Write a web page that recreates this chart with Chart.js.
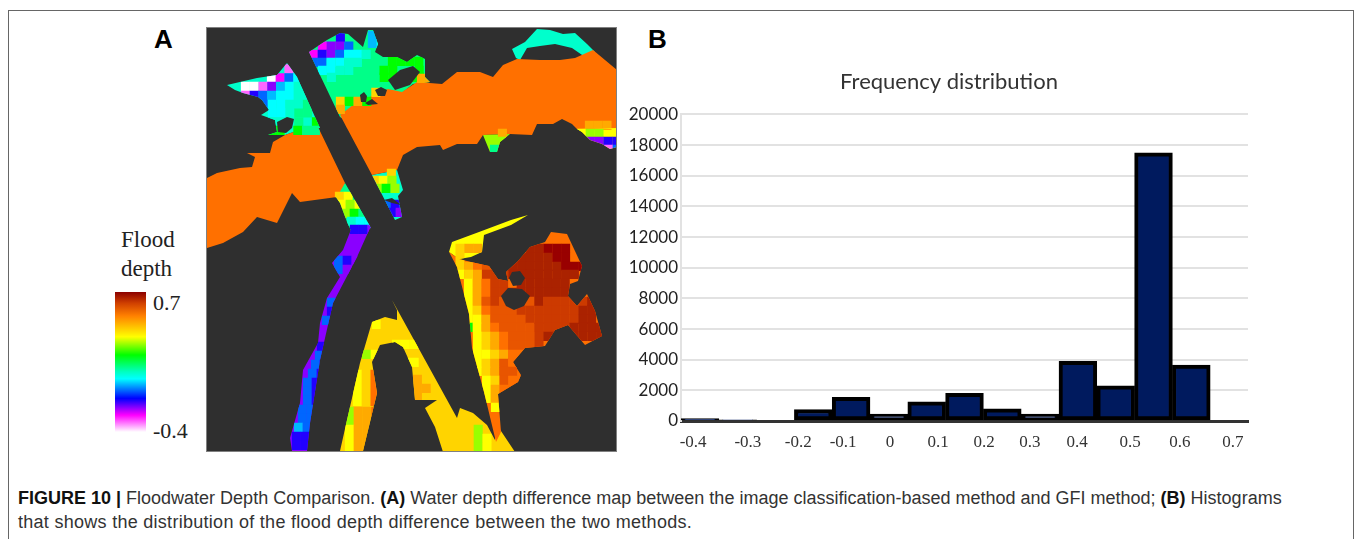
<!DOCTYPE html>
<html>
<head>
<meta charset="utf-8">
<title>Floodwater Depth Comparison</title>
<script src="https://cdn.jsdelivr.net/npm/chart.js@4"></script>
<style>
  html, body { margin: 0; padding: 0; background: #fff; }
  body { position: relative; width: 1356px; height: 539px; overflow: hidden; }
  .abs { position: absolute; white-space: nowrap; }
  #frame { left: 8px; top: 10px; width: 1344px; height: 540px; border: 1.5px solid #666; }
  .panel { font: bold 26px "Liberation Sans"; color: #000; line-height: 30px; }
  .legend-text { font: 22px "Liberation Serif"; color: #222; line-height: 24px; }
  #colorbar {
    left: 115px; top: 292px; width: 31px; height: 140px;
    background: linear-gradient(to bottom, #8b0000 0%, #d04000 8%, #ff8000 17%, #ffff00 32%, #00ff00 45%, #00ffc0 57%, #00ffff 62%, #0000ff 76%, #ff00ff 88%, #ffffff 100%);
  }
  .caption { left: 18px; font: 18px "Liberation Sans"; color: #333; }
  .caption b { color: #111; }
  #map-wrap { left: 206px; top: 27px; width: 411px; height: 425px; }
  #hist-wrap { left: 620px; top: 65px; width: 658px; height: 400px; }
</style>
</head>
<body>
<div class="abs" id="frame"></div>
<div class="abs panel" style="left:154px;top:24px">A</div>
<div class="abs panel" style="left:648px;top:24px">B</div>
<div class="abs legend-text" style="left:121px;top:228px;font-size:23px">Flood</div>
<div class="abs legend-text" style="left:121px;top:257px;font-size:23px">depth</div>
<div class="abs" id="colorbar"></div>
<div class="abs legend-text" style="left:153px;top:291px">0.7</div>
<div class="abs legend-text" style="left:153px;top:419px">-0.4</div>
<div class="abs" id="map-wrap"><canvas id="map-chart"></canvas></div>
<div class="abs" id="hist-wrap"><canvas id="hist-chart"></canvas></div>
<div class="abs caption" style="top:488px"><b>FIGURE 10 |</b> Floodwater Depth Comparison. <b>(A)</b> Water depth difference map between the image classification-based method and GFI method; <b>(B)</b> Histograms</div>
<div class="abs caption" style="top:512px;letter-spacing:0.28px">that shows the distribution of the flood depth difference between the two methods.</div>

<script>
// --------------- histogram data --------------- //
const binLabels = ['b1', 'b2', 'b3', 'b4', 'b5', 'b6', 'b7', 'b8', 'b9', 'b10', 'b11', 'b12', 'b13', 'b14', 'b15'];
const frequencies = [150, 80, 0, 750, 1550, 450, 1250, 1800, 800, 450, 3900, 2300, 17500, 3650, 0];
const xTickLabels = ['-0.4', '-0.3', '-0.2', '-0.1', '0', '0.1', '0.2', '0.3', '0.4', '0.5', '0.6', '0.7'];
// where each label sits, counted in bins from the axis start (labels are not evenly spaced in the figure)
const xTickBins = [0.32, 1.77, 3.1, 4.29, 5.53, 6.8, 8.02, 9.23, 10.48, 11.88, 13.2, 14.6];

// --------------- map data (traced, in picture pixels) --------------- //
const mapColors = {
  w: '#ffffff', p: '#ff66ff', m: '#ff00ff', v: '#8a00ff', b: '#2200ff', a: '#0066ff', i: '#00bbff',
  c: '#00ffff', t: '#00ffcc', s: '#00ff88', g: '#00ff00', l: '#99ff00', y: '#ffff00', d: '#ffd400',
  e: '#ffaa00', o: '#ff7000', r: '#e85500', R: '#cc3a00', k: '#aa2200', D: '#990000'
};

const topLeftShape = [[227,85],[257,78],[277,75],[287,63],[297,77],[320,128],[302,129],[285,135],[268,135],[277,132],[275,120],[261,115],[269,110],[262,100],[258,97],[243,93],[235,90]];
const topRightShape = [[309,52],[327,40],[340,33],[348,34],[363,47],[368,30],[373,30],[378,44],[375,52],[383,57],[397,57],[407,62],[417,55],[425,59],[425,77],[430,82],[413,84],[403,92],[388,95],[345,120],[340,117]];
const topCyanShape = [[512,49],[525,42],[537,29],[550,30],[563,34],[575,33],[587,44],[595,52],[585,57],[572,48],[555,44],[540,46],[527,48],[520,60],[516,58]];
const leftBandShape = [[207,178],[217,173],[240,168],[252,167],[255,157],[247,153],[270,153],[273,142],[285,135],[302,129],[318,127],[345,183],[337,197],[300,202],[292,193],[277,223],[257,217],[243,232],[223,243],[207,248]];
const rightBandShape = [[340,115],[353,105],[380,92],[388,89],[402,92],[417,82],[442,84],[457,72],[480,72],[493,77],[503,65],[517,59],[540,60],[560,60],[575,58],[593,50],[617,70],[617,129],[577,129],[572,124],[562,119],[553,124],[537,124],[532,135],[510,134],[483,135],[477,144],[457,144],[443,150],[440,145],[417,147],[403,155],[397,170],[372,175]];
const bandTailShape = [[577,129],[582,132],[590,140],[602,144],[610,149],[617,147],[617,128]];
const bandLobeShape = [[483,135],[490,152],[497,152],[500,142],[510,134]];
const underLeftShape = [[333,193],[345,183],[371,228],[352,233],[347,222],[340,203]];
const underRightShape = [[372,175],[397,170],[403,190],[398,196],[402,217],[395,220]];
const purpleShape = [[352,227],[370,228],[357,257],[333,303],[320,360],[310,423],[307,451],[292,451],[290,438],[300,403],[303,370],[318,343],[320,323],[327,298],[340,277],[332,263],[343,250]];
const fanShape = [[372,322],[385,317],[397,320],[397,310],[392,300],[457,418],[460,408],[473,413],[487,425],[495,440],[497,425],[515,452],[443,452],[435,427],[425,408],[437,400],[415,400],[412,367],[403,347],[395,342],[380,345],[372,362],[377,393],[363,451],[340,451],[347,420],[360,363]];
const blobStripeShape = [[528,215],[511,225],[484,235],[482,252],[471,257],[459,259],[449,252],[452,242],[479,232],[511,220]];
const blobShape = [[449,252],[459,259],[471,262],[489,266],[498,279],[508,281],[506,272],[518,261],[530,247],[545,242],[551,232],[567,234],[582,266],[578,281],[570,284],[568,296],[577,306],[587,294],[595,311],[602,336],[585,345],[568,325],[555,330],[545,346],[525,348],[513,362],[521,375],[518,382],[498,394],[501,432],[496,442],[484,392],[472,348],[469,314],[457,267]];

// dark gaps cut back out of the land
const holeShapes = [
  [[277,122],[287,117],[294,119],[292,128],[286,133],[278,132]],
  [[388,80],[400,70],[413,66],[420,72],[410,85],[395,90]],
  [[360,95],[364,92],[367,96],[366,102],[361,102]],
  [[375,90],[381,87],[387,90],[385,96],[378,96]],
  [[365,103],[372,99],[378,104],[368,105]],
  [[509,278],[512,272],[520,271],[525,278],[521,285],[513,286]],
  [[501,296],[508,288],[522,289],[530,296],[524,306],[514,310],[506,306]],
  [[384,200],[392,198],[401,205],[392,203]]
];

const mapRegions = [
  { shape: topLeftShape, color: mapColors.t },
  { shape: topRightShape, color: mapColors.s },
  { shape: topCyanShape, color: mapColors.t },
  { shape: underLeftShape, color: mapColors.s },
  { shape: underRightShape, color: mapColors.t },
  { shape: purpleShape, color: mapColors.v },
  { shape: fanShape, color: mapColors.d },
  { shape: blobStripeShape, color: mapColors.y },
  { shape: blobShape, color: mapColors.o },
  { shape: leftBandShape, color: mapColors.o },
  { shape: rightBandShape, color: mapColors.o },
  { shape: bandTailShape, color: mapColors.y },
  { shape: bandLobeShape, color: mapColors.l }
];

// mosaic cells: [row top, first cell left, one letter per cell, '.' leaves the base colour]
const mosaicRows = [
  // top left, beside the road
  [64.5, 284.5, 'p'],
  [73.3, 267, 'wmac'],
  [82, 241, 'wwpvictt'],
  [91, 241, 'pbaicctt'],
  [100, 259, 'accttss'],
  [108.6, 268, 'cctss.'],
  [117.4, 268, 'tt.s.gg'],
  [126, 267, 'gg.gss.oo'],
  // top right, above the band
  [33, 336, 'b'],
  [41.7, 318, 'mvva'],
  [50, 309, 'mbvacct'],
  [58, 309, 'aacctt'],
  [66, 318, 'cctt...gg..g'],
  [73, 327, 't.....gg.gg'],
  [88, 345, 'ss.d'],
  [97, 336, 'dgeg'],
  [105, 336, 'e'],
  [31, 368, 'ic'],
  [39, 368, 'ic'],
  [57, 388, 'gggg'],
  [74, 417, 'ee'],
  // under the band, both sides of the road
  [192, 335, 'dy'],
  [200, 337, 'yly'],
  [209, 341, 'lgs'],
  [217, 347, 'tcc'],
  [225, 350, 'bbv'],
  [169, 387, 'd'],
  [176, 370, 'dyl'],
  [184, 373, 'lgl'],
  [200, 382, 'ab'],
  [208, 387, 'bv'],
  // band edges
  [121, 585, 'eee'],
  [129, 577, 'yll'],
  [137, 586, 'vvbb'],
  [145, 604, 'pa'],
  [129, 498, 'e'],
  [137, 490, 'll'],
  [145, 490, 's'],
  // purple strip
  [256, 334, 'abv'],
  [265, 334, 'av'],
  [298, 327, 'ab'],
  [307, 327, 'b'],
  [316, 322, 'ab'],
  [342, 317, 'b'],
  [351, 315, 'ab'],
  [360, 311, 'ab'],
  [369, 308, 'ab'],
  [378, 303, 'ab'],
  [387, 303, 'ab'],
  [396, 303, 'ab'],
  [405, 298, 'aa'],
  [414, 298, 'aa'],
  [423, 294, 'ia'],
  [432, 292, 'bb'],
  [441, 292, 'bb'],
  // lower fan
  [320, 372, 'yd'],
  [350, 362, 'ly'],
  [370, 353, 'ydo'],
  [379, 353, 'ydo'],
  [388, 353, 'ydo'],
  [397, 353, 'ydo'],
  [407, 345, 'leeo'],
  [416, 345, 'leeo'],
  [425, 345, 'yee'],
  [434, 345, 'yee'],
  [443, 345, 'yee'],
  [340, 392, 'yyy'],
  [358, 401, 'yy'],
  [375, 413, 'e'],
  [384, 413, 'ee'],
  [393, 413, 'e'],
  [425, 465, 'dl'],
  [434, 465, 'dly'],
  [443, 465, 'dly'],
  // right blob
  [244, 455.6, 'dee.....kkDDD'],
  [253, 455.6, 'd......kkkkDD'],
  [262, 455.6, 'deorr.kkkkkkDDD'],
  [270, 455.6, 'ydeRRRkkkkkkkk'],
  [279, 464, 'yeoRR.kkkkkk'],
  [288, 464, 'yeoRRkkkkkkk'],
  [297, 464, 'yerRrrrrkRRRRRkk'],
  [306, 464, 'ydorrrRRRRRRRkk'],
  [315, 464, 'yyerrrrRRRRRRkk'],
  [323, 464, 'gyeorrrrRRRRkkkk'],
  [332, 473, 'ydeorrrRkkkkkkk'],
  [341, 473, 'ydeorrrR'],
  [350, 473, 'yydeoor'],
  [359, 473, 'ydero'],
  [367, 473, 'yderr'],
  [376, 482, 'ydroo'],
  [385, 482, 'yeooo'],
  [394, 482, 'ye'],
  [403, 491, 'ye']
];

const mapCellSize = 8.8;

// flatten the rows into the points the scatter dataset draws
const mosaicPoints = [];
const mosaicColors = [];
mosaicRows.forEach(([top, left, letters]) => {
  letters.split('').forEach((letter, i) => {
    if (letter === '.') return;
    mosaicPoints.push({ x: left + i * mapCellSize + mapCellSize / 2, y: top + mapCellSize / 2 });
    mosaicColors.push(mapColors[letter]);
  });
});

// --------------- map chart --------------- //
function tracePolygon(ctx, chart, shape) {
  shape.forEach(([px, py], i) => {
    const x = chart.scales.x.getPixelForValue(px);
    const y = chart.scales.y.getPixelForValue(py);
    if (i === 0) ctx.moveTo(x, y); else ctx.lineTo(x, y);
  });
  ctx.closePath();
}

const landPlugin = {
  id: 'land',
  beforeDatasetsDraw(chart) {
    const ctx = chart.ctx;
    const area = chart.chartArea;
    ctx.save();
    ctx.fillStyle = '#2f2f2f';
    ctx.fillRect(area.left, area.top, area.right - area.left, area.bottom - area.top);
    mapRegions.forEach(region => {
      ctx.beginPath();
      tracePolygon(ctx, chart, region.shape);
      ctx.fillStyle = region.color;
      ctx.fill();
    });
    ctx.restore();
  },
  // mosaic cells only show where there is land
  beforeDatasetDraw(chart) {
    const ctx = chart.ctx;
    ctx.save();
    ctx.beginPath();
    mapRegions.forEach(region => tracePolygon(ctx, chart, region.shape));
    ctx.clip();
  },
  afterDatasetDraw(chart) {
    chart.ctx.restore();
  },
  afterDatasetsDraw(chart) {
    const ctx = chart.ctx;
    ctx.save();
    ctx.fillStyle = '#2f2f2f';
    holeShapes.forEach(shape => {
      ctx.beginPath();
      tracePolygon(ctx, chart, shape);
      ctx.fill();
    });
    const area = chart.chartArea;
    ctx.strokeStyle = '#808080';
    ctx.lineWidth = 1;
    ctx.strokeRect(area.left + 0.5, area.top + 0.5, area.right - area.left - 1, area.bottom - area.top - 1);
    ctx.restore();
  }
};

const mapChart = new Chart(document.getElementById('map-chart'), {
  type: 'scatter',
  data: {
    datasets: [{
      data: mosaicPoints,
      pointStyle: 'rect',
      pointRadius: 6.4,
      pointBorderWidth: 0,
      pointBackgroundColor: mosaicColors,
    }]
  },
  plugins: [landPlugin],
  options: {
    responsive: true,
    maintainAspectRatio: false,
    animation: false,
    events: [],
    layout: { padding: 0, autoPadding: false },
    plugins: { legend: { display: false }, tooltip: { enabled: false } },
    scales: {
      x: { type: 'linear', min: 206, max: 617, display: false },
      y: { type: 'linear', min: 27, max: 452, reverse: true, display: false },
    },
  },
});

// --------------- histogram chart --------------- //
const histChart = new Chart(document.getElementById('hist-chart'), {
  type: 'bar',
  data: {
    labels: binLabels,
    datasets: [{
      data: frequencies,
      backgroundColor: '#001a5e',
      borderColor: '#000000',
      borderWidth: 4,
      borderSkipped: false,
      barPercentage: 1,
      categoryPercentage: 1,
    }]
  },
  options: {
    responsive: true,
    maintainAspectRatio: false,
    animation: false,
    events: [],
    layout: { padding: 0 },
    plugins: {
      legend: { display: false },
      tooltip: { enabled: false },
      title: {
        display: true,
        text: 'Frequency distribution',
        color: '#333',
        font: { family: 'Lato', size: 22, weight: 'normal' },
        padding: { top: 4, bottom: 19 },
      }
    },
    scales: {
      x: {
        position: 'bottom',
        grid: { display: false },
        border: { color: '#333', width: 3 },
        ticks: { display: false },
        afterFit: scale => { scale.height = 3; },
      },
      xLabels: {
        type: 'linear',
        position: 'bottom',
        min: 0,
        max: 15,
        offset: false,
        grid: { display: false, drawTicks: false },
        border: { display: false },
        ticks: {
          padding: 8,
          maxRotation: 0,
          autoSkip: false,
          color: '#333',
          font: { family: 'Liberation Serif', size: 17 },
          callback: (value, i) => xTickLabels[i],
        },
        afterBuildTicks: scale => { scale.ticks = xTickBins.map(value => ({ value })); },
        afterFit: scale => { scale.height = 41; },
      },
      y: {
        min: 0,
        max: 20000,
        grid: { color: '#e2e2e2', lineWidth: 2, drawTicks: false },
        border: { color: '#e2e2e2', width: 2 },
        ticks: {
          stepSize: 2000,
          padding: 3,
          color: '#222',
          font: { family: 'Lato', size: 17 },
          callback: value => String(value),
        },
        afterFit: scale => { scale.width = 61; },
      },
      // empty axis on the right, keeps the title over its spot left of the plot centre
      ySpacer: {
        position: 'right',
        grid: { display: false, drawTicks: false },
        border: { display: false },
        ticks: { display: false },
        afterFit: scale => { scale.width = 30; },
      },
    },
  },
});
</script>
</body>
</html>
